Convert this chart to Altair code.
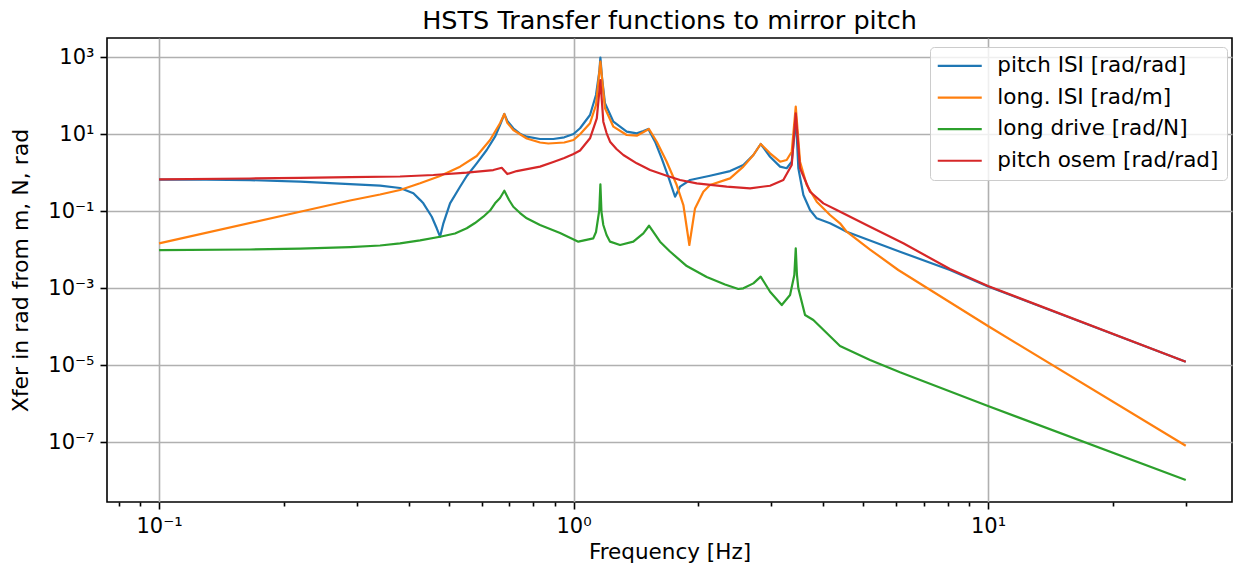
import altair as alt
import pandas as pd

series_names = ["pitch ISI [rad/rad]", "long. ISI [rad/m]", "long drive [rad/N]", "pitch osem [rad/rad]"]
series_colors = ["#1f77b4", "#ff7f0e", "#2ca02c", "#d62728"]

# pitch ISI [rad/rad]
blue_f = [0.1, 0.13, 0.1657, 0.2189, 0.2889, 0.3414, 0.3814, 0.4108, 0.4263, 0.4342,
          0.455, 0.4677, 0.4764, 0.4853, 0.5036, 0.5324, 0.5526, 0.584, 0.6174, 0.6466,
          0.6648, 0.6809, 0.6923, 0.7157, 0.745, 0.7712, 0.8302, 0.8939, 0.95, 1.0,
          1.037, 1.096, 1.133, 1.154, 1.161, 1.172, 1.191, 1.248, 1.344, 1.421,
          1.474, 1.515, 1.573, 1.632, 1.693, 1.758, 1.807, 1.911, 2.135, 2.386,
          2.569, 2.716, 2.829, 2.98, 3.15, 3.268, 3.361, 3.41, 3.437, 3.487,
          3.586, 3.721, 3.862, 4.158, 4.395, 4.561, 5.695, 6.133, 8.096, 10.0, 30.0]
blue_v = [0.650, 0.648, 0.635, 0.577, 0.502, 0.459, 0.396, 0.288, 0.195, 0.158,
          0.0711, 0.0356, 0.0215, 0.048, 0.158, 0.428, 0.811, 1.73, 3.84, 8.51,
          17.1, 33.1, 21.8, 14.1, 10.0, 8.51, 7.41, 7.41, 8.2, 10.0,
          14.1, 31.2, 103, 415, 959, 280, 62.7, 20.9, 11.5, 10.4,
          12.0, 13.5, 6.31, 2.34, 0.778, 0.235, 0.428, 0.638, 0.826, 1.09,
          1.57, 2.85, 5.50, 2.57, 1.42, 1.29, 1.91, 9.42, 31.2, 1.29,
          0.261, 0.106, 0.0646, 0.048, 0.0356, 0.029, 0.0118, 0.00877, 0.00294, 0.0011, 1.22e-5]

# long. ISI [rad/m]
orange_f = [0.1, 0.2189, 0.2889, 0.3414, 0.3814, 0.4263, 0.4764, 0.5324, 0.584, 0.629,
            0.6648, 0.6809, 0.6923, 0.7157, 0.7712, 0.8302, 0.8694, 0.95, 1.0, 1.037,
            1.096, 1.133, 1.161, 1.191, 1.248, 1.344, 1.421, 1.521, 1.588, 1.678,
            1.774, 1.841, 1.903, 1.964, 2.057, 2.135, 2.386, 2.569, 2.716, 2.829,
            2.98, 3.15, 3.268, 3.361, 3.437, 3.52, 3.653, 3.862, 4.158, 4.395,
            4.561, 5.193, 6.075, 10.0, 30.0]
orange_v = [0.0145, 0.0959, 0.1875, 0.2685, 0.352, 0.524, 0.811, 1.42, 2.68, 6.98,
            19.0, 33.1, 19.5, 12.7, 7.64, 6.01, 5.66, 6.01, 6.98, 9.83,
            19.0, 56.6, 755, 46.5, 15.5, 9.42, 9.03, 13.5, 6.31, 1.91,
            0.473, 0.143, 0.0131, 0.117, 0.317, 0.473, 0.706, 1.42, 2.85, 5.50,
            3.15, 1.91, 2.11, 3.47, 51.2, 1.91, 0.473, 0.175, 0.0787, 0.048,
            0.029, 0.0100, 0.00294, 1.03e-4, 8.0e-8]

# long drive [rad/N]
green_f = [0.1, 0.1657, 0.2189, 0.2889, 0.3414, 0.3814, 0.4263, 0.4764, 0.5177, 0.5526,
           0.5785, 0.6058, 0.629, 0.6466, 0.6648, 0.6809, 0.699, 0.7157, 0.743, 0.7712,
           0.8302, 0.928, 1.027, 1.116, 1.133, 1.154, 1.161, 1.168, 1.18, 1.2015,
           1.225, 1.295, 1.394, 1.474, 1.521, 1.617, 1.709, 1.876, 2.096, 2.32,
           2.498, 2.569, 2.716, 2.829, 2.98, 3.18, 3.33, 3.41, 3.437, 3.46,
           3.487, 3.619, 3.79, 4.395, 5.193, 6.133, 10.0, 30.0]
green_v = [0.0097, 0.0100, 0.0105, 0.0116, 0.0127, 0.0145, 0.0173, 0.0215, 0.0261, 0.0356,
           0.0488, 0.0711, 0.103, 0.158, 0.218, 0.337, 0.193, 0.129, 0.0887, 0.0646,
           0.0433, 0.0268, 0.016, 0.0195, 0.0285, 0.106, 0.494, 0.0942, 0.0433, 0.0238,
           0.016, 0.0131, 0.016, 0.0264, 0.0415, 0.016, 0.00887, 0.00372, 0.00193, 0.00123,
           0.000942, 0.00098, 0.00132, 0.00197, 0.000802, 0.000361, 0.000658, 0.00218, 0.0107, 0.00218,
           0.00098, 0.000199, 0.000148, 3.12e-5, 1.35e-5, 6.46e-6, 8.61e-7, 1.03e-8]

# pitch osem [rad/rad]
red_f = [0.1, 0.1657, 0.2189, 0.2889, 0.3814, 0.4591, 0.5526, 0.6406, 0.6711, 0.6923,
         0.7295, 0.8302, 0.8939, 0.95, 1.0, 1.037, 1.096, 1.138, 1.161, 1.18,
         1.2015, 1.225, 1.2694, 1.319, 1.421, 1.53, 1.678, 1.807, 1.983, 2.342,
         2.667, 2.98, 3.208, 3.361, 3.437, 3.52, 3.721, 4.007, 4.315, 5.193,
         6.247, 8.096, 10.0, 30.0]
red_v = [0.665, 0.698, 0.728, 0.755, 0.787, 0.861, 0.989, 1.16, 1.33, 0.914,
         1.09, 1.42, 1.87, 2.38, 3.02, 3.73, 7.73, 25.6, 253, 20.9,
         10.6, 6.31, 4.08, 2.85, 1.73, 1.16, 0.826, 0.638, 0.524, 0.428,
         0.389, 0.454, 0.638, 1.57, 34.5, 1.29, 0.317, 0.158, 0.106, 0.0391,
         0.0145, 0.00312, 0.00113, 1.22e-5]

x_ticks = [0.08, 0.09, 0.1, 0.2, 0.3, 0.4, 0.5, 0.6, 0.7, 0.8, 0.9, 1, 2, 3, 4, 5, 6, 7, 8, 9, 10, 20, 30]
y_ticks = [1e-7, 1e-5, 1e-3, 1e-1, 10, 1000]

rows = []
for name, fs, vs in zip(series_names, [blue_f, orange_f, green_f, red_f], [blue_v, orange_v, green_v, red_v]):
    assert len(fs) == len(vs), name
    for i, (f, v) in enumerate(zip(fs, vs)):
        rows.append({"series": name, "f": f, "v": v, "i": i})
df = pd.DataFrame(rows)

EXP = "round(log(datum.value)/LN10)"
SUP = "['\u2070','\u00b9','\u00b2','\u00b3','\u2074','\u2075','\u2076','\u2077','\u2078','\u2079']"
label_expr = f"'10' + ({EXP} < 0 ? '\u207b' : '') + {SUP}[abs({EXP})]"
major_test = f"abs(log(datum.value)/LN10 - {EXP}) < 0.001"
x_label_expr = f"({major_test}) ? ({label_expr}) : ''"

FONT = "DejaVu Sans"

x_axis = alt.Axis(
    values=x_ticks, labelExpr=x_label_expr, labelOverlap=False, labelFlush=False,
    grid=True,
    gridOpacity={"condition": {"test": major_test, "value": 1}, "value": 0},
    tickSize={"condition": {"test": major_test, "value": 7}, "value": 4},
    labelPadding=6, titlePadding=5.5, titleFontSize=21.5,
)
y_axis = alt.Axis(
    values=y_ticks, labelExpr=label_expr, labelOverlap=False, labelFlush=False,
    grid=True, tickSize=7, labelPadding=6, titlePadding=15, titleFontSize=22,
)

chart = alt.Chart(df).mark_line(strokeWidth=2.2, clip=True, strokeJoin="round").encode(
    x=alt.X("f:Q", title="Frequency [Hz]",
            scale=alt.Scale(type="log", domain=[0.07489, 38.79], nice=False), axis=x_axis),
    y=alt.Y("v:Q", title="Xfer in rad from m, N, rad",
            scale=alt.Scale(type="log", domain=[2.77e-9, 3116], nice=False), axis=y_axis),
    color=alt.Color("series:N", scale=alt.Scale(domain=series_names, range=series_colors),
                    legend=alt.Legend(title=None, orient="none", legendX=823, legendY=9,
                                      symbolType="M-2.75,0H2.75", symbolSize=256, symbolStrokeWidth=2.2,
                                      labelFontSize=21.5, labelFont=FONT, labelColor="black",
                                      labelLimit=400, rowPadding=8.6, padding=8.2,
                                      fillColor="rgba(255,255,255,0.8)", strokeColor="#cccccc",
                                      cornerRadius=4, labelOffset=26.8, symbolOffset=10.8)),
    order=alt.Order("i:Q"),
).properties(
    width=1125, height=464,
    padding={"left": 99, "top": 30, "right": 1, "bottom": 63},
    autosize=alt.AutoSizeParams(type="none"),
    title=alt.TitleParams("HSTS Transfer functions to mirror pitch", fontSize=25.5, font=FONT,
                          fontWeight="normal", color="black", offset=3.5, anchor="middle"),
).configure_view(
    stroke="black", strokeWidth=1.6
).configure_axis(
    domain=False, tickColor="black", tickWidth=1.6,
    labelFont=FONT, labelFontSize=21, labelColor="black",
    titleFont=FONT, titleFontSize=21, titleFontWeight="normal", titleColor="black",
    gridColor="#b0b0b0", gridWidth=1.6,
)

chart.save("out.html", embed_options={"renderer": "svg", "actions": False})
